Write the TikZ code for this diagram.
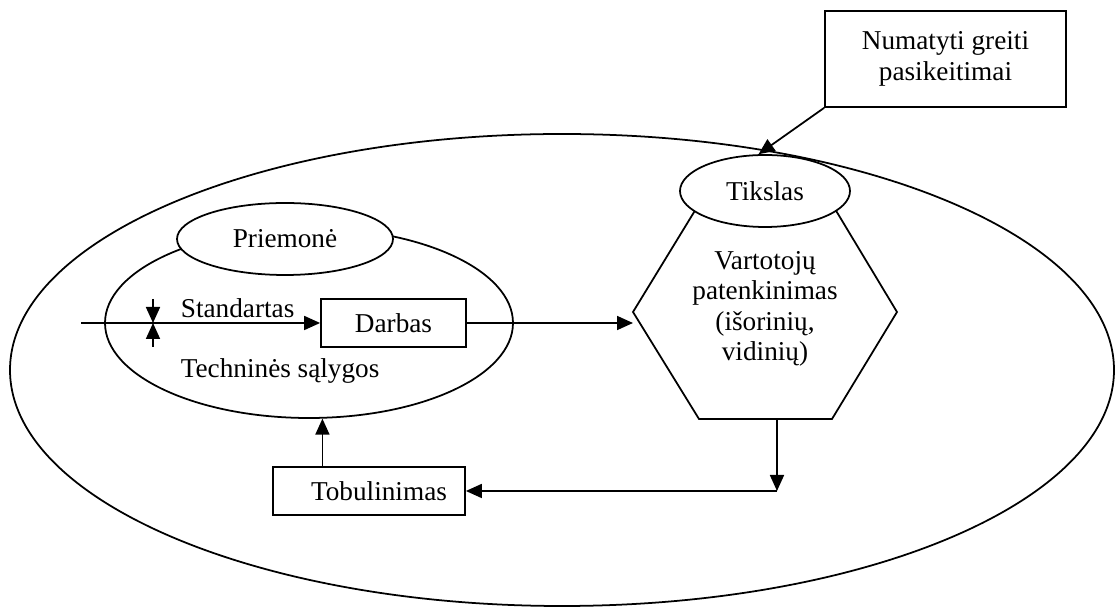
\documentclass[tikz,border=0pt]{standalone}
\usepackage{fontspec}
\setmainfont{Liberation Serif}
\usetikzlibrary{calc}
\usetikzlibrary{shapes.geometric}
\usetikzlibrary{arrows.meta}

\begin{document}
\begin{tikzpicture}[line width=1pt,
  >={Triangle[length=0.32cm,width=0.28cm]},
  every node/.style={font=\fontsize{15.5}{17.4}\selectfont},
  box/.style={draw,minimum height=0.96cm,inner sep=0pt},
  oval/.style={draw,ellipse,fill=white,inner sep=0pt}]

\useasboundingbox (0,0) rectangle (22.3,12.18);

\def\xradius{11.04cm}
\def\yradius{4.72cm}
\coordinate (centre) at (11.24,4.78);
\draw (centre) ellipse[x radius=\xradius,y radius=\yradius];

\coordinate (hexW) at (12.66,5.94);
\coordinate (hexNW) at (13.98,8.10);
\coordinate (hexNE) at (16.64,8.10);
\coordinate (hexE) at (17.94,5.94);
\coordinate (hexSE) at (16.64,3.80);
\coordinate (hexSW) at (13.98,3.80);
\draw (hexW) -- (hexNW) -- (hexNE) -- (hexE) -- (hexSE) -- (hexSW) -- cycle;

\node[oval,minimum width=3.4cm,minimum height=1.44cm] (tikslas) at (15.30,8.36) {Tikslas};
\node[align=center] (vartotoju) at (15.30,6.00) {Vartotojų\\patenkinimas\\(išorinių,\\vidinių)};
\node[draw,align=center,minimum width=4.82cm,minimum height=1.92cm] (numatyti) at (18.91,11.00) {Numatyti greiti\\pasikeitimai};

\node[draw,ellipse,minimum width=8.16cm,minimum height=3.8cm] (technines) at (6.18,5.72) {};
\node[oval,minimum width=4.32cm,minimum height=1.44cm] (priemone) at (5.70,7.40) {Priemonė};
\node[box,minimum width=2.9cm] (darbas) at (7.87,5.72) {Darbas};
\node[box,minimum width=3.84cm] (tobulinimas) at (7.38,2.36) {\hspace{0.4cm}Tobulinimas};
\node[anchor=base west,inner sep=0pt] (standartas) at (3.6,5.82) {Standartas};
\node[anchor=base west,inner sep=0pt] (salygos) at (3.6,4.62) {Techninės sąlygos};

\coordinate (input) at (1.62,5.72);
\coordinate (tol) at (3.06,5.72);
\coordinate (tolTop) at (3.06,6.20);
\coordinate (tolBot) at (3.06,5.24);
\coordinate (corner) at (15.54,2.36);

\draw[->] (input) -- (darbas.west);
\draw[->] (tolTop) -- (tol);
\draw[->] (tolBot) -- (tol);
\draw[->] (darbas.east) -- (darbas.east -| hexW);
\draw[->] (numatyti.south west) -- (tikslas.100);
\draw[->] (corner |- hexSW) -- (corner);
\draw[->] (corner) -- (tobulinimas.east);
\draw[->] (tobulinimas.north -| technines.-82) -- (technines.-82);

%\draw[help lines] (0,0) grid (22,12);

\end{tikzpicture}
\end{document}
